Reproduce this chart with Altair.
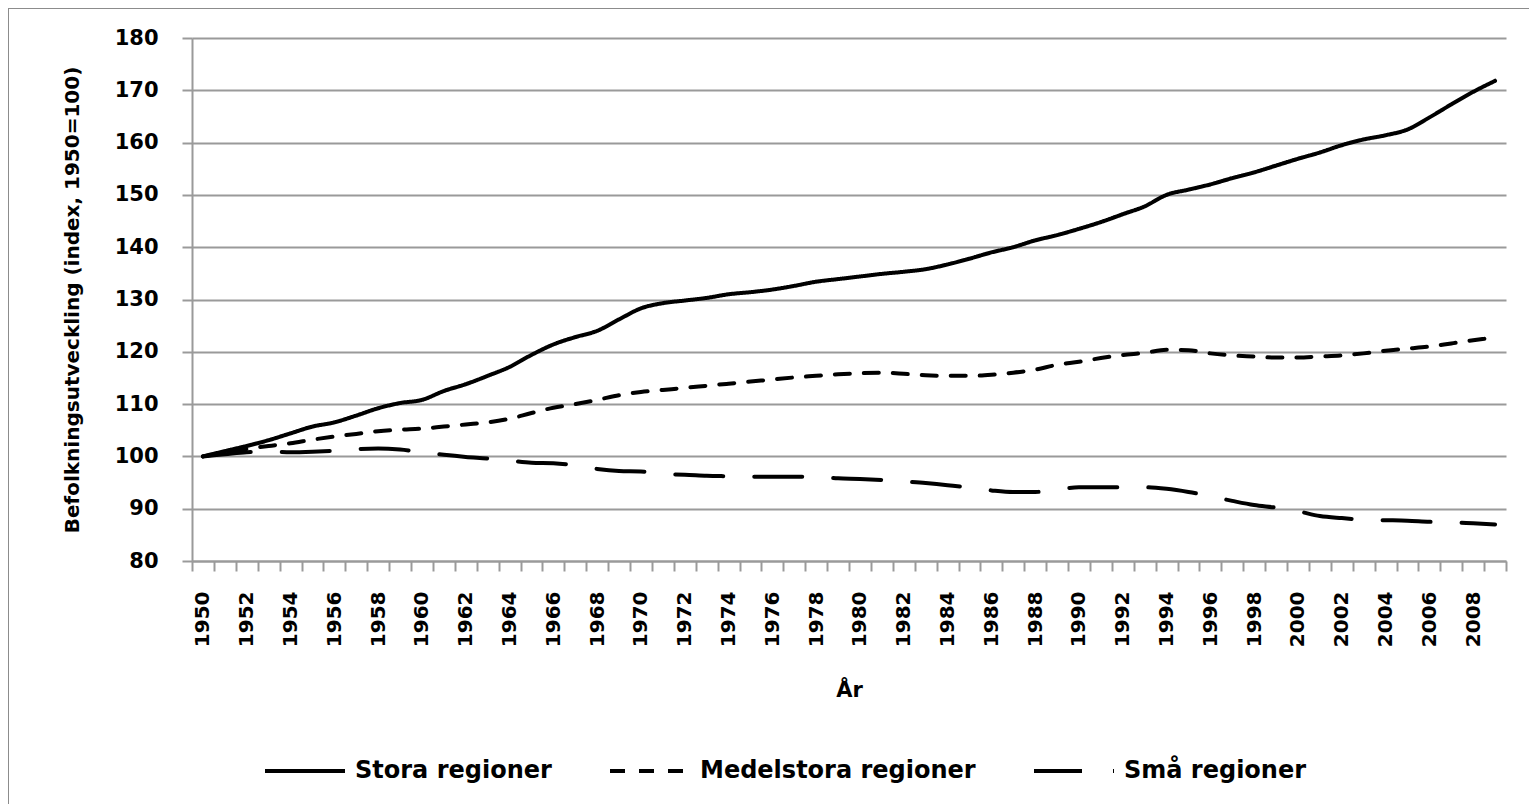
import altair as alt
import pandas as pd

years = list(range(1950, 2010))

stora = [100.0, 101.0, 102.0, 103.1, 104.4, 105.7, 106.5, 107.8, 109.2, 110.2,
         110.8, 112.5, 113.8, 115.4, 117.1, 119.4, 121.4, 122.8, 124.0, 126.2,
         128.3, 129.3, 129.8, 130.3, 131.0, 131.4, 131.9, 132.6, 133.4, 133.9,
         134.4, 134.9, 135.3, 135.8, 136.7, 137.8, 139.0, 140.0, 141.3, 142.3,
         143.5, 144.8, 146.3, 147.8, 150.0, 151.0, 152.0, 153.2, 154.3, 155.6,
         156.9, 158.1, 159.5, 160.6, 161.4, 162.5, 164.8, 167.3, 169.7, 171.8]

medelstora = [100.0, 100.7, 101.4, 102.0, 102.5, 103.2, 103.8, 104.3, 104.8, 105.1,
              105.3, 105.7, 106.1, 106.5, 107.2, 108.3, 109.3, 110.0, 110.8, 111.7,
              112.3, 112.7, 113.1, 113.5, 113.9, 114.3, 114.7, 115.1, 115.4, 115.7,
              115.9, 116.0, 115.8, 115.5, 115.4, 115.4, 115.6, 116.0, 116.6, 117.5,
              118.1, 118.8, 119.4, 119.8, 120.4, 120.3, 119.7, 119.3, 119.1, 118.9,
              118.9, 119.1, 119.3, 119.7, 120.2, 120.6, 121.0, 121.6, 122.2, 122.8]

sma = [100.0, 100.4, 100.8, 100.9, 100.8, 100.9, 101.1, 101.4, 101.5, 101.3,
       100.8, 100.3, 99.9, 99.6, 99.2, 98.8, 98.7, 98.3, 97.6, 97.2,
       97.1, 96.6, 96.5, 96.3, 96.2, 96.1, 96.1, 96.1, 96.1, 95.8,
       95.7, 95.5, 95.2, 94.9, 94.5, 94.0, 93.5, 93.2, 93.2, 93.6,
       94.1, 94.1, 94.1, 94.1, 93.8, 93.2, 92.4, 91.5, 90.7, 90.2,
       89.5, 88.6, 88.2, 87.9, 87.8, 87.7, 87.5, 87.4, 87.2, 87.0]

series_names = ["Stora regioner", "Medelstora regioner", "Små regioner"]
dash_styles = [[1, 0], [15, 14], [48, 31]]
y_ticks = [80, 90, 100, 110, 120, 130, 140, 150, 160, 170, 180]

rows = []
for name, vals in zip(series_names, [stora, medelstora, sma]):
    for yr, v in zip(years, vals):
        rows.append({"År": yr, "Index": v, "Region": name})
df = pd.DataFrame(rows)

# ticks sit between the yearly categories, labels on every second year
boundaries = [yr - 0.5 for yr in years] + [years[-1] + 0.5]
x_values = sorted(boundaries + years)

FONT = "DejaVu Sans"
GRID = "#9a9a9a"

x_axis = alt.Axis(
    values=x_values,
    title="År",
    labelAngle=270,
    labelExpr="datum.value % 2 === 0 ? format(datum.value, 'd') : ''",
    labelOverlap=False,
    labelFlush=False,
    labelFont=FONT,
    labelFontSize=20,
    labelFontWeight="bold",
    labelColor="black",
    labelPadding=20,
    tickSize=10,
    tickWidth=2,
    tickColor=GRID,
    tickOpacity={"condition": {"test": "datum.value % 1 !== 0", "value": 1}, "value": 0},
    domainColor=GRID,
    domainWidth=2,
    grid=False,
    titleFont=FONT,
    titleFontSize=21,
    titleFontWeight="bold",
    titleColor="black",
    titlePadding=33,
)

y_axis = alt.Axis(
    values=y_ticks,
    title="Befolkningsutveckling  (index, 1950=100)",
    labelFont=FONT,
    labelFontSize=21,
    labelFontWeight="bold",
    labelColor="black",
    labelPadding=24,
    tickSize=10,
    tickWidth=2,
    tickColor=GRID,
    domainColor=GRID,
    domainWidth=2,
    grid=True,
    gridColor=GRID,
    gridWidth=2,
    titleFont=FONT,
    titleFontSize=20,
    titleFontWeight="bold",
    titleColor="black",
    titlePadding=32,
)

lines = alt.Chart(df).mark_line(
    color="black", strokeWidth=4, strokeCap="round", interpolate="monotone"
).encode(
    x=alt.X("År:Q", scale=alt.Scale(domain=[years[0] - 0.5, years[-1] + 0.5], nice=False, zero=False), axis=x_axis),
    y=alt.Y("Index:Q", scale=alt.Scale(domain=[80, 180], nice=False, zero=False), axis=y_axis),
    strokeDash=alt.StrokeDash(
        "Region:N",
        scale=alt.Scale(domain=series_names, range=dash_styles),
        legend=alt.Legend(
            title=None,
            orient="none",
            direction="horizontal",
            legendX=71,
            legendY=691,
            symbolType="stroke",
            symbolSize=6400,
            symbolStrokeWidth=4,
            symbolStrokeColor="black",
            labelFont=FONT,
            labelFontSize=24,
            labelFontWeight="bold",
            labelColor="black",
            labelOffset=8,
            columnPadding=50,
            labelLimit=400,
            padding=0,
        ),
    ),
    detail="Region:N",
)

frame = alt.Chart(pd.DataFrame({"f": [0]})).mark_rect(
    filled=False, stroke="#8c8c8c", strokeWidth=2, clip=False
).encode(
    x=alt.value(-184), x2=alt.value(1400), y=alt.value(-30), y2=alt.value(900)
)

chart = alt.layer(frame, lines).properties(
    width=1314,
    height=523,
    padding={"left": 184, "top": 30, "right": 23, "bottom": 243},
    autosize=alt.AutoSizeParams(type="none"),
    background="white",
).configure_view(stroke=None)

chart.save("out.html", embed_options={"renderer": "svg", "actions": False})
